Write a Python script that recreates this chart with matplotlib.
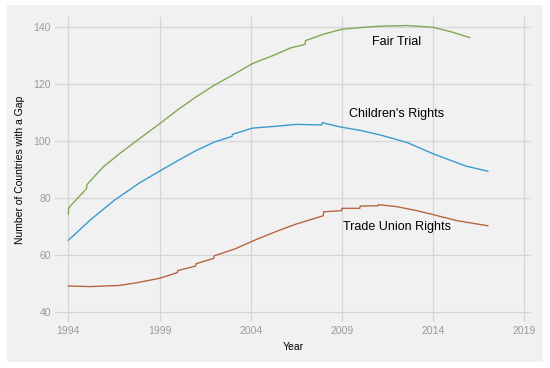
import matplotlib.pyplot as plt
from matplotlib.patches import Rectangle

plt.rcParams['font.family'] = ['Liberation Sans', 'DejaVu Sans']

# values
fair_years = [1994.0, 1994.02, 1995.0, 1995.02, 1995.9, 1996.8, 1997.9, 1999.0, 2000.0,
              2001.0, 2002.0, 2003.1, 2004.1, 2005.3, 2006.2, 2006.98, 2007.0, 2008.0,
              2009.0, 2010.2, 2011.1, 2012.6, 2014.0, 2015.0, 2016.0]
fair_vals = [74.4, 76.6, 83.3, 84.7, 90.8, 95.5, 100.8, 106.0, 110.9,
             115.4, 119.5, 123.4, 127.1, 130.1, 132.6, 133.8, 135.1, 137.4,
             139.1, 139.8, 140.2, 140.4, 139.8, 138.2, 136.2]

child_years = [1994.0, 1995.2, 1996.5, 1997.9, 1999.0, 2000.0, 2001.0, 2002.0, 2002.98,
               2003.0, 2004.1, 2005.3, 2006.5, 2007.9, 2007.92, 2008.9, 2010.0, 2011.1,
               2012.6, 2014.0, 2015.8, 2017.0]
child_vals = [65.2, 72.3, 79.1, 85.3, 89.4, 93.1, 96.6, 99.6, 101.6,
              102.3, 104.5, 105.1, 105.8, 105.6, 106.4, 104.9, 103.7, 102.1,
              99.4, 95.5, 91.2, 89.4]

trade_years = [1994.0, 1995.2, 1996.8, 1997.8, 1999.0, 1999.98, 2000.0, 2000.98, 2001.0,
               2001.98, 2002.0, 2003.1, 2004.35, 2005.6, 2006.5, 2007.98, 2008.0,
               2008.98, 2009.0, 2009.98, 2010.0, 2010.98, 2011.0, 2012.0, 2013.1,
               2014.0, 2015.3, 2017.0]
trade_vals = [49.2, 49.0, 49.4, 50.4, 51.9, 53.9, 54.6, 56.2, 57.0,
              58.9, 59.8, 62.1, 65.6, 68.8, 70.9, 73.8, 75.2,
              75.6, 76.4, 76.4, 77.2, 77.3, 77.7, 77.0, 75.6,
              74.2, 72.1, 70.3]

labels = ['Fair Trial', "Children's Rights", 'Trade Union Rights']
label_pos = [(2012.0, 134.5), (2012.0, 109.6), (2012.0, 69.7)]
x_ticks = [1994, 1999, 2004, 2009, 2014, 2019]
y_ticks = [40, 60, 80, 100, 120, 140]

bg = '#f1f1f1'
fig = plt.figure(figsize=(5.5, 3.68), dpi=100, facecolor='white')
panel = Rectangle((7 / 550, 1 - 362 / 368), 536 / 550, 357 / 368,
                  transform=fig.transFigure, facecolor=bg,
                  edgecolor='none', zorder=-10)
fig.add_artist(panel)
ax = fig.add_axes([0.1, 0.125, 0.8655, 0.8288])
ax.set_facecolor(bg)

ax.plot(fair_years, fair_vals, color='#80a957', lw=1.0)
ax.plot(child_years, child_vals, color='#3a9ad0', lw=1.0)
ax.plot(trade_years, trade_vals, color='#b8663f', lw=1.0)

for txt, (x, y) in zip(labels, label_pos):
    ax.text(x, y, txt, ha='center', va='center', fontsize=9, color='black')

ax.set_xlim(1993.27, 2019.37)
ax.set_ylim(36.6, 143.4)
ax.set_xticks(x_ticks)
ax.set_yticks(y_ticks)
ax.grid(True, color='#d6d6d6', lw=0.9)
ax.set_axisbelow(True)
for s in ax.spines.values():
    s.set_visible(False)
ax.tick_params(length=0, labelsize=7.5, labelcolor='#9a9a9a', pad=3)
ax.set_xlabel('Year', fontsize=7.5, labelpad=4)
ax.set_ylabel('Number of Countries with a Gap', fontsize=7.5, labelpad=6)

fig.savefig('out.png', dpi=100, facecolor='white')
